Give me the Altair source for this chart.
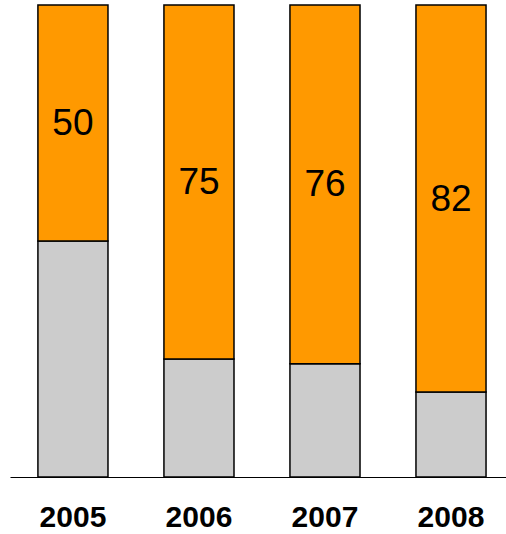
import altair as alt
import pandas as pd

years = ["2005", "2006", "2007", "2008"]
orange_vals = [50, 75, 76, 82]
gray_vals = [50, 25, 24, 18]

rows = []
for y, g, o in zip(years, gray_vals, orange_vals):
    rows.append({"year": y, "part": "gray", "order": 0, "value": g})
    rows.append({"year": y, "part": "orange", "order": 1, "value": o})
df = pd.DataFrame(rows)

lab = pd.DataFrame({"year": years, "orange": orange_vals, "gray": gray_vals})

xscale = alt.Scale(paddingInner=0.444, paddingOuter=0.19, align=0.583)
xaxis = alt.Axis(title=None, ticks=False, grid=False, domainColor="black", domainWidth=1.2,
                 labelAngle=0, labelFont="Liberation Sans", labelFontWeight="bold",
                 labelFontSize=30, labelColor="black", labelPadding=25)

bars = alt.Chart(df).mark_bar(stroke="black", strokeWidth=1.5).encode(
    x=alt.X("year:N", scale=xscale, sort=years, axis=xaxis),
    y=alt.Y("value:Q", stack="zero", scale=alt.Scale(domain=[0, 100], nice=False),
            axis=None),
    color=alt.Color("part:N", scale=alt.Scale(domain=["gray", "orange"],
                                               range=["#CCCCCC", "#FF9900"]), legend=None),
    order=alt.Order("order:Q"),
)

text = alt.Chart(lab).transform_calculate(
    mid="datum.gray + datum.orange / 2"
).mark_text(font="Liberation Sans", fontSize=37, color="black", baseline="middle", dy=1).encode(
    x=alt.X("year:N", scale=xscale, sort=years, axis=xaxis),
    y=alt.Y("mid:Q", scale=alt.Scale(domain=[0, 100], nice=False), axis=None),
    text=alt.Text("orange:Q"),
)

chart = (bars + text).properties(
    width=496, height=472,
    background="white",
    autosize=alt.AutoSizeParams(type="none"),
    padding={"left": 10, "top": 5, "right": 0, "bottom": 57},
).configure_view(stroke=None)

chart.save("out.html", embed_options={"renderer": "svg", "actions": False})
